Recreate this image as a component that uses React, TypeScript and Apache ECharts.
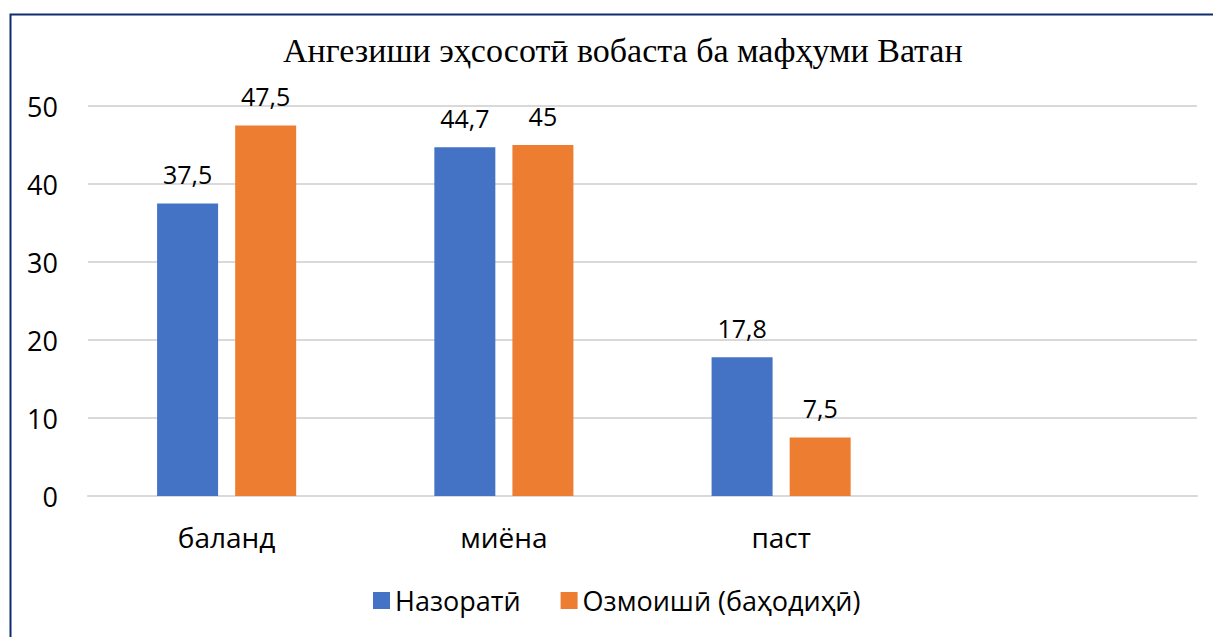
import React, { useEffect, useRef } from "react";
import * as echarts from "echarts";

const titleText = "Ангезиши эҳсосотӣ вобаста ба мафҳуми Ватан";
const categories = ["баланд", "миёна", "паст", ""];
const seriesNames = ["Назоратӣ", "Озмоишӣ (баҳодиҳӣ)"];
const controlValues = [37.5, 44.7, 17.8, null];
const experimentValues = [47.5, 45, 7.5, null];
const colors = ["#4472C4", "#ED7D31"];

const FONT = "'Open Sans', 'Noto Sans', sans-serif";

export default function App() {
  const ref = useRef<HTMLDivElement>(null);
  useEffect(() => {
    if (!ref.current) return;
    const chart = echarts.init(ref.current, undefined, { renderer: "svg" });
    const label = {
      show: true,
      position: "top",
      distance: 17,
      color: "#000",
      fontFamily: FONT,
      fontSize: 25,
      formatter: (p: any) => String(p.value).replace(".", ","),
    };
    chart.setOption({
      animation: false,
      backgroundColor: "#fff",
      title: {
        text: titleText,
        left: 278,
        top: 28,
        textStyle: {
          fontFamily: "'Liberation Serif', 'DejaVu Serif', serif",
          fontSize: 34,
          fontWeight: "normal",
          color: "#000",
        },
      },
      grid: { left: 88, right: 16, top: 106, bottom: 141, containLabel: false },
      legend: {
        bottom: 18,
        left: 368,
        itemWidth: 17,
        itemHeight: 17,
        itemGap: 40,
        icon: "rect",
        textStyle: { fontFamily: FONT, fontSize: 27, color: "#000" },
        data: seriesNames,
      },
      xAxis: {
        type: "category",
        data: categories,
        axisLine: { show: true, lineStyle: { color: "#d9d9d9", width: 2 } },
        axisTick: { show: false },
        axisLabel: { fontFamily: FONT, fontSize: 28, color: "#000", margin: 27 },
      },
      yAxis: {
        type: "value",
        min: 0,
        max: 50,
        interval: 10,
        axisLine: { show: false },
        axisTick: { show: false },
        splitLine: { lineStyle: { color: "#d9d9d9", width: 2 } },
        axisLabel: { fontFamily: FONT, fontSize: 27, color: "#000", margin: 30 },
      },
      series: [
        {
          name: seriesNames[0],
          type: "bar",
          data: controlValues,
          barWidth: "22%",
          barGap: "28%",
          itemStyle: { color: colors[0] },
          label,
        },
        {
          name: seriesNames[1],
          type: "bar",
          data: experimentValues,
          barWidth: "22%",
          itemStyle: { color: colors[1] },
          label,
        },
      ],
      graphic: [
        {
          type: "rect",
          left: 8,
          top: 12,
          shape: { x: 0, y: 0, width: 1400, height: 800 },
          style: { fill: "none", stroke: "#0f2d6e", lineWidth: 2 },
          silent: true,
        },
      ],
    });
    return () => chart.dispose();
  }, []);
  return (
    <div
      ref={ref}
      style={{ position: "fixed", left: 0, top: 0, width: 1213, height: 637 }}
    />
  );
}
